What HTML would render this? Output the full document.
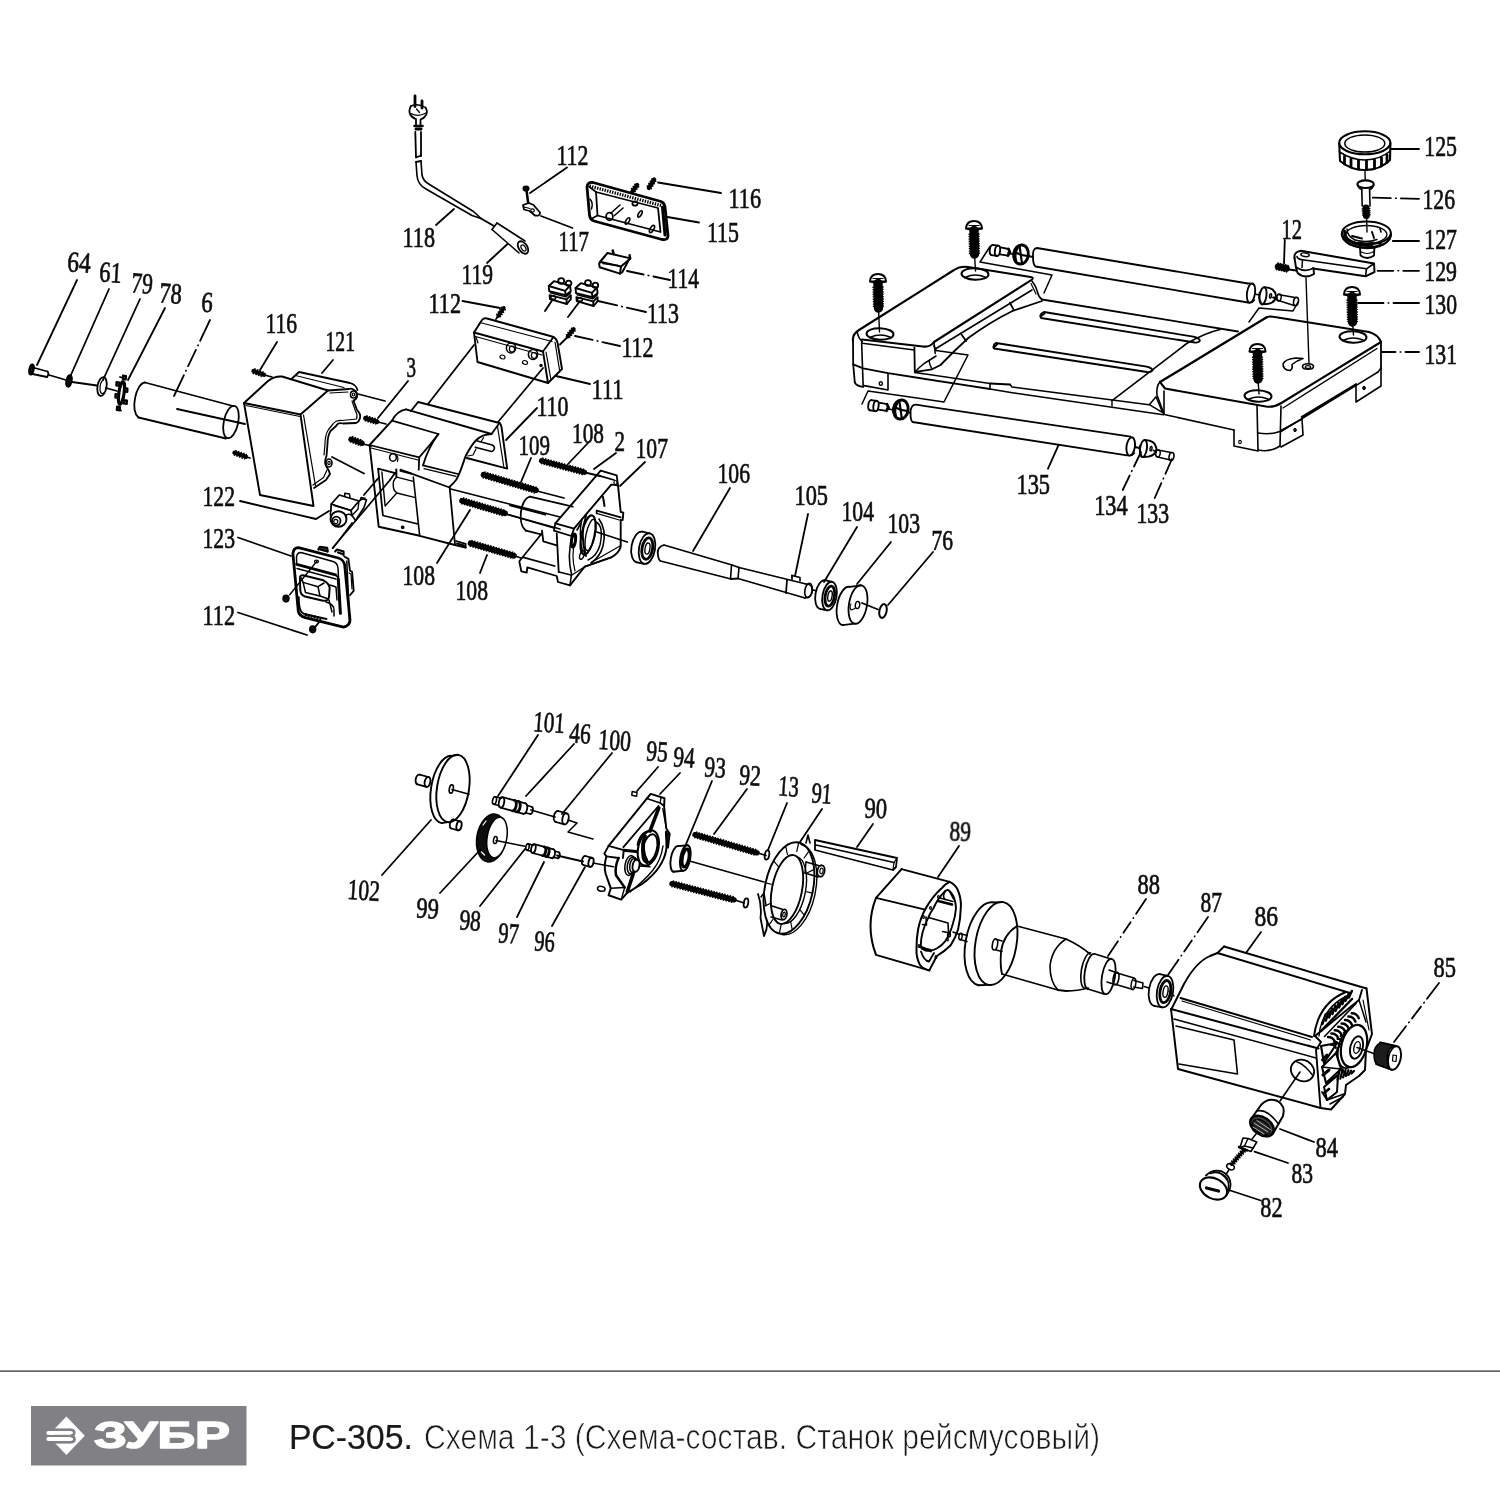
<!DOCTYPE html>
<html lang="ru"><head><meta charset="utf-8"><title>РС-305. Схема 1-3</title>
<style>
html,body{margin:0;padding:0;background:#fff}
body{width:1500px;height:1500px;overflow:hidden;position:relative;font-family:"Liberation Sans",sans-serif}
svg{position:absolute;left:0;top:0;display:block}
.n text{font-family:"Liberation Serif",serif;font-size:29px;fill:#111;stroke:#111;stroke-width:0.7px}
.ft{font-family:"Liberation Sans",sans-serif;font-size:35px;fill:#1a1a1a}
.lg{font-family:"Liberation Sans",sans-serif;font-weight:bold;font-size:36px;fill:#fff;stroke:#fff;stroke-width:1.5px;stroke-linejoin:round}
</style></head><body>
<svg width="1500" height="1500" viewBox="0 0 1500 1500">
<defs><filter id="na" x="0" y="0" width="1500" height="1500" filterUnits="userSpaceOnUse"><feOffset dx="0" dy="0"/></filter><filter id="sb" x="0" y="0" width="1500" height="1500" filterUnits="userSpaceOnUse"><feGaussianBlur stdDeviation="0.45"/></filter></defs>
<rect width="1500" height="1500" fill="#fff"/>
<g class="d" filter="url(#sb)" stroke="#000" stroke-width="1.8" fill="none" stroke-linecap="round" stroke-linejoin="round">
<ellipse cx="31.5" cy="369.5" rx="1.6" ry="4.6" transform="rotate(12 31.5 369.5)" stroke-width="3"/>
<path d="M33 367.5 L47.5 371.5"/>
<path d="M32.5 374 L47 377"/>
<path d="M47.5 371.5 Q49.5 374 47 377"/>
<path d="M49 375 L66 380"/>
<path d="M72 382 L97 385.5"/>
<path d="M106 388 L117 391"/>
<ellipse cx="69" cy="381" rx="2.6" ry="5.8" transform="rotate(12 69 381)" fill="#111"/>
<ellipse cx="102" cy="386.5" rx="4.5" ry="9.5" transform="rotate(10 102 386.5)"/>
<path d="M103 380 A3 7 10 0 0 103.5 393" stroke-width="1.2"/>
<ellipse cx="121.5" cy="393" rx="2.6" ry="11.5" transform="rotate(8 121.5 393)" stroke-width="3.2"/>
<path d="M122.9 375.5 L126.1 375.9 L125.9 379.5 L122.7 379.1Z" stroke-width="1.9" fill="#333"/>
<path d="M116.4 382 L119.6 382.4 L119.4 386 L116.2 385.6Z" stroke-width="1.9" fill="#333"/>
<path d="M124.4 388 L127.6 388.4 L127.4 392 L124.2 391.6Z" stroke-width="1.9" fill="#333"/>
<path d="M115.4 394 L118.6 394.4 L118.4 398 L115.2 397.6Z" stroke-width="1.9" fill="#333"/>
<path d="M123.9 400 L127.1 400.4 L126.9 404 L123.7 403.6Z" stroke-width="1.9" fill="#333"/>
<path d="M116.9 406.5 L120.1 406.9 L119.9 410.5 L116.7 410.1Z" stroke-width="1.9" fill="#333"/>
<path d="M120 377 L123.5 378"/>
<path d="M117 409 L121 410.5"/>
<path d="M145 382.5 L233 406"/>
<path d="M138.5 417.5 L226 438.5"/>
<path d="M145 382.5 C136 383 130 410 138.5 417.5"/>
<ellipse cx="231" cy="422" rx="7.2" ry="16.5" transform="rotate(12 231 422)"/>
<path d="M177 409 L245 424"/>
<path d="M244 403 L300.5 414.5 L313.5 506 L260 495Z" stroke-width="1.9"/>
<path d="M246 405.5 L300 416.5" stroke-width="1.2"/>
<path d="M244 403 L268 381 Q274 376 282 376.5 L328 390.5 L300.5 414.5" stroke-width="1.9"/>
<path d="M292 378.5 L299 372 L350 383 Q356 384.5 357.5 390" stroke-width="1.8"/>
<path d="M295.5 375.5 L344 387.5" stroke-width="1.2"/>
<path d="M328 390.5 L349 389 Q352 388 354 390 Q358 392 357 397 Q356 400 353.5 400.5 L357 410 Q361 414 360 418 Q359 422 356 423 L343 423.5 Q338 422 336 426 L330.5 431 Q327.5 436 327.5 444 L326.5 456 Q324 462 326 466 Q329 470 330 474 L326 480 L314 488" stroke-width="1.8"/>
<path d="M330 393 L348 392 M352 401 L355.5 411 Q358 415 356.5 419 L342 420.5 Q336 420 333 424 L328.5 429.5 Q325 435 325 444 L324 455 M327 470 L323.5 477.5 L313 485" stroke-width="1.2"/>
<ellipse cx="353.5" cy="394.5" rx="3" ry="3.5" stroke-width="1.6"/>
<ellipse cx="353.5" cy="394.5" rx="1.2" ry="1.5" stroke-width="1.2"/>
<ellipse cx="329" cy="463" rx="3" ry="4" stroke-width="1.6"/>
<ellipse cx="329" cy="463" rx="1.2" ry="1.6" stroke-width="1.2"/>
<path d="M303.5 415 L315.5 486" stroke-width="1.2"/>
<path d="M253.5 371 L264 374.8" stroke-width="4.4"/>
<path d="M253.5 371 L264 374.8" stroke-width="6.2" stroke-dasharray="1.5 1.3" stroke-linecap="butt"/>
<path d="M264.5 375 L272 377"/>
<path d="M234.5 452.7 L246 456.8" stroke-width="4.4"/>
<path d="M234.5 452.7 L246 456.8" stroke-width="6.2" stroke-dasharray="1.5 1.3" stroke-linecap="butt"/>
<path d="M246.5 457 L250 458"/>
<path d="M365.5 418.2 L377 421.8" stroke-width="4.8"/>
<path d="M365.5 418.2 L377 421.8" stroke-width="6.6" stroke-dasharray="1.5 1.3" stroke-linecap="butt"/>
<path d="M378 422 L386 424"/>
<path d="M351 439.2 L362 443.3" stroke-width="5.4"/>
<path d="M351 439.2 L362 443.3" stroke-width="7.2" stroke-dasharray="1.5 1.3" stroke-linecap="butt"/>
<path d="M358 394 L385 401"/>
<path d="M332 457 L364 473.5"/>
<path d="M363 444 L371 446"/>
<path d="M331.3 504 L339.3 495 L359 501 L351 510.5Z" stroke-width="1.8"/>
<path d="M331.3 504 L330.8 510.5"/>
<path d="M351 510.5 L352 515.5"/>
<path d="M334 505.5 L349.5 510" stroke-width="1.4"/>
<path d="M359 501 L362 499 L366.5 499.8 L364 507.5 L355.5 520.5" stroke-width="1.6"/>
<path d="M352 515.5 L358 509 L359 501" stroke-width="1.4"/>
<path d="M352 515.5 L355.5 520.5" stroke-width="1.5"/>
<path d="M344.7 496.5 L344.7 493.3 L349.5 494 L350 498" stroke-width="1.5"/>
<path d="M360.5 500 L361 497.5 L365 498.3" stroke-width="1.4"/>
<ellipse cx="338.5" cy="519" rx="8" ry="7.8" stroke-width="1.9"/>
<ellipse cx="336.3" cy="521" rx="4.2" ry="4.4" stroke-width="1.8"/>
<ellipse cx="335.8" cy="521.5" rx="2" ry="2.2" stroke-width="1.2"/>
<path d="M331 510.5 Q329.5 514 331 517 M346 515 Q349 513.5 352 515.5" stroke-width="1.5"/>
<path d="M292.9 553.6 Q293.3 548 298.5 547.7 L338.3 558 Q343.5 559.5 344.7 565 L350 620 Q350 625.5 343.6 627.2 L305.2 617.6 Q299 615.5 298.3 611.2 Z" stroke-width="2.8"/>
<path d="M296.7 564.3 L296.5 557 Q297 552.5 301 552.5 L333 561.5 Q337.5 563 338 568 L340.4 613.3" stroke-width="1.5"/>
<path d="M296.7 564.3 L335.6 574.9" stroke-width="2.8"/>
<path d="M297 568.5 L336 579" stroke-width="1.5"/>
<path d="M335.6 574.9 Q338.3 576.5 338.3 579.2" stroke-width="1.8"/>
<path d="M338.3 579.2 L340.4 613.3" stroke-width="3"/>
<path d="M344.7 556.8 L348.4 558.9 L350 570.7 L352.1 571.7 L353.7 590.9 L350 595.2" stroke-width="1.8"/>
<path d="M346.8 561.1 L349.5 619.7" stroke-width="1.5"/>
<path d="M349 573 L351 574 L352 589" stroke-width="1.2"/>
<path d="M299.9 578.5 Q299.5 574.5 304 575.5 L323.3 580.3 Q328.5 582.5 329.7 587.7 L329 597 Q328 602 322 600.5 L305 596.5 Q300.5 595 300.3 590 Z" stroke-width="2"/>
<path d="M303.1 582.4 L318 586.7 L320 596 L305.5 592.5Z" stroke-width="1.5"/>
<path d="M318 586.7 L324 583" stroke-width="1.5"/>
<path d="M320 596 L327 598.5" stroke-width="1.5"/>
<path d="M303.1 582.4 L301.5 578" stroke-width="1.4"/>
<path d="M298.8 597.3 Q298.5 606 300.9 611.2 Q302 613.5 306 614.5 L326.5 619" stroke-width="1.9"/>
<path d="M305 614.5 L322 619" stroke-width="3.2" stroke-dasharray="2 1" stroke-linecap="butt"/>
<path d="M329 600 L332 612 M326 602 Q334 604 334 610 L334 616" stroke-width="1.5"/>
<path d="M330 585 L336 587 L337 600" stroke-width="1.5"/>
<path d="M318.5 549.5 L320 547 L327 548 L327.6 551.5" stroke-width="2.5"/>
<path d="M321 549.5 L326.5 551" stroke-width="2.5"/>
<path d="M335.1 551.5 L337 549.5 L343.6 551.5 L343.6 555.5" stroke-width="2"/>
<path d="M338 552.5 L342.5 554" stroke-width="2.2"/>
<ellipse cx="316.5" cy="561.5" rx="2" ry="1.4" stroke-width="1.2"/>
<ellipse cx="286" cy="598.6" rx="2.8" ry="3.2" fill="#111"/>
<ellipse cx="312.7" cy="629.3" rx="2.8" ry="3.2" fill="#111"/>
<path d="M289.7 594.7 L316.9 561.1" stroke-width="1.5"/>
<path d="M315.9 626.1 L320.1 620.8"/>
<path d="M390 480 L332.6 548"/>
<path d="M376.7 480 L363.9 495"/>
<path d="M352.1 522.7 L332.9 548.3" stroke-width="1.4"/>
<path d="M395 473 L390 480"/>
<path d="M378.5 478 L376.7 480"/>
<path d="M369.6 445 L378.7 526.7 L419.7 535.8 L455 545 L465.6 547.5" stroke-width="1.9"/>
<path d="M369.6 445 L392 420.6 Q397 411 406 409.4" stroke-width="1.9"/>
<path d="M392 420.6 L438.4 434"/>
<path d="M438.4 434 Q430 445 419.2 457.4"/>
<path d="M438.4 434 Q428 448 423 465.4"/>
<path d="M369.6 445 L419.2 457.4 L418.7 469.7" stroke-width="1.8"/>
<path d="M371 448 L418 460" stroke-width="1.2"/>
<path d="M406 409.4 L491.5 434" stroke-width="1.9"/>
<path d="M411 411 L418.1 402 L499.5 423" stroke-width="1.9"/>
<path d="M491.5 434 L499.5 423"/>
<path d="M499.5 423 Q501 424 501.5 427 L507.2 468.6 L466.7 458" stroke-width="1.9"/>
<path d="M497.6 427 L504 468" stroke-width="1.2"/>
<path d="M491.5 434 C478 434 472 444 465.6 456 C462 466 460 474 456 480 Q453 484 449.6 486.7" stroke-width="1.9"/>
<path d="M423 465.4 L458 474"/>
<path d="M424 468.6 L456 476.3" stroke-width="1.2"/>
<path d="M400.5 469.7 L449.6 487.5"/>
<path d="M449.6 487 L455 544.5" stroke-width="1.8"/>
<path d="M450.7 489 L560 517"/>
<path d="M396.3 473.4 L378.1 468.6 L382.9 515.5 L418.1 524" stroke-width="1.8"/>
<path d="M413.3 477 L419.7 535.8" stroke-width="1.6"/>
<path d="M381.9 472 L385.1 506 L396.8 493 L414.4 497.4" stroke-width="1.4"/>
<path d="M396.3 469.5 L396.3 477" stroke-width="2"/>
<path d="M396.8 477.1 L413.3 481.4" stroke-width="1.4"/>
<path d="M396.8 477.1 Q392 480 393.5 488 Q394 491 396.8 493" stroke-width="1.4"/>
<path d="M400.5 470.7 L411 473.5" stroke-width="2"/>
<ellipse cx="393" cy="457.4" rx="3.4" ry="3.8" stroke-width="1.6"/>
<path d="M395 454 Q399 456 397.5 461.5" stroke-width="1.2"/>
<ellipse cx="402.7" cy="527.3" rx="1" ry="1" fill="#111"/>
<path d="M456 541 L465.6 543.8 L465.6 547.5"/>
<path d="M457 543.5 L464 545.5" stroke-width="1.9"/>
<path d="M477.3 441 L492.3 445 Q495.500 447 494 449.5 Q493 452 490.5 451.3 L475.2 447.3" stroke-width="1.5"/>
<path d="M483.7 437.7 L481 441.5" stroke-width="1.2"/>
<path d="M467.7 456 L473 455 L476 449" stroke-width="1.2"/>
<path d="M474 345 L428 404"/>
<path d="M543 368 L498 422"/>
<path d="M483.5 474.7 L536 490.3" stroke-width="5.6"/>
<path d="M483.5 474.7 L536 490.3" stroke-width="7.4" stroke-dasharray="1.5 1.3" stroke-linecap="butt"/>
<path d="M537 491 L564 498"/>
<path d="M541.5 460.7 L584.5 472.3" stroke-width="5.2"/>
<path d="M541.5 460.7 L584.5 472.3" stroke-width="7" stroke-dasharray="1.5 1.3" stroke-linecap="butt"/>
<path d="M585 472.5 L600 476"/>
<path d="M462 500.7 L505 513.3" stroke-width="5.6"/>
<path d="M462 500.7 L505 513.3" stroke-width="7.4" stroke-dasharray="1.5 1.3" stroke-linecap="butt"/>
<path d="M506 514 L560 529"/>
<path d="M470.5 543.2 L514 555.8" stroke-width="5.6"/>
<path d="M470.5 543.2 L514 555.8" stroke-width="7.4" stroke-dasharray="1.5 1.3" stroke-linecap="butt"/>
<path d="M515 556 L521 558"/>
<path d="M600.7 470.7 L616.7 475.3 L618 485.3" stroke-width="1.8"/>
<path d="M600.7 470.7 L555.3 523.3 L574 528.7 L611.3 484.7" stroke-width="1.9"/>
<path d="M598 475.3 L614 480"/>
<path d="M611.3 484.7 L618 485.3"/>
<ellipse cx="615.5" cy="482.5" rx="1.6" ry="2" stroke-width="1.2"/>
<path d="M618 485.3 L620.7 512 L623.3 512.7 L622.7 520 L620.7 520 L620.7 546.7 Q619 553 611.3 557.3 L584.7 566.7 L570 585.3" stroke-width="1.9"/>
<path d="M555.3 523.3 L554 530.7 L571.3 536 L574 528.7" stroke-width="1.8"/>
<path d="M556.7 533.3 L558.7 572" stroke-width="1.8"/>
<path d="M572 537 Q567 556 571.5 574 L570 585" stroke-width="1.6"/>
<path d="M575 540 Q571 556 575 571" stroke-width="1.2"/>
<path d="M530 496.7 C520 499 517 524 526 530.7" stroke-width="1.8"/>
<path d="M530 496.7 L572.7 506.7" stroke-width="1.8"/>
<path d="M526 530.7 L542 534.7" stroke-width="1.8"/>
<path d="M510 505.3 L545.3 514.7"/>
<path d="M506 514 L554 528"/>
<path d="M542 530.7 L543.3 541.3 L556.7 545.3"/>
<path d="M542 533.3 L519.3 561.3 L521.3 571.3 L526.7 572.7 L527.3 567.3 L556.7 576 L558 582 L570 585.3" stroke-width="1.8"/>
<path d="M523.3 557.3 L554.7 566"/>
<path d="M559 572 L571 575"/>
<path d="M572 575 L584.7 566.7" stroke-width="1.2"/>
<ellipse cx="588" cy="535" rx="6.5" ry="20" transform="rotate(12 588 535)" stroke-width="2.1"/>
<ellipse cx="590.5" cy="535" rx="4.5" ry="16" transform="rotate(12 590.5 535)" stroke-width="1.4"/>
<path d="M582 519 Q578 535 583 553" stroke-width="1.4"/>
<path d="M596 522 Q604 526 600 545 Q597 556 588 560" stroke-width="1.5"/>
<ellipse cx="573.5" cy="540.5" rx="2" ry="6.5" transform="rotate(8 573.5 540.5)" stroke-width="3"/>
<path d="M586 516 Q579.5 535 586 556" stroke-width="1.9"/>
<path d="M599 519 Q607 530 603 546 Q600 557 591 563" stroke-width="1.6"/>
<path d="M584.7 566.7 L611.3 557.3" stroke-width="1.5"/>
<path d="M577 530 L581 523" stroke-width="1.6"/>
<ellipse cx="582" cy="555" rx="2" ry="4.5" transform="rotate(20 582 555)" stroke-width="1.4"/>
<path d="M596.7 510.7 L620.7 517.3" stroke-width="1.8"/>
<path d="M596.7 513.4 L619.3 520" stroke-width="1.2"/>
<path d="M596.7 510.7 L596.7 513.4"/>
<path d="M603 497 L604.5 506" stroke-width="2"/>
<path d="M596.7 532 L627.3 542"/>
<path d="M592 562 L620 546" stroke-width="1.2"/>
<path d="M642.2 531.7 A8 15.5 10 0 0 636.8 562.3" stroke-width="1.8"/>
<path d="M642.2 531.7 L649.7 533.3" stroke-width="1.8"/>
<path d="M636.8 562.3 L644.3 563.9" stroke-width="1.8"/>
<ellipse cx="647" cy="548.6" rx="8" ry="15.5" transform="rotate(10 647 548.6)" stroke-width="1.8"/>
<ellipse cx="647.3" cy="548.6" rx="5.3" ry="10.8" transform="rotate(10 647.3 548.6)" stroke-width="2.8"/>
<ellipse cx="647.5" cy="548.6" rx="2.4" ry="5.6" transform="rotate(10 647.5 548.6)" stroke-width="1.4"/>
<path d="M664 545 L732 565 M660.500 561 L731 579 M664 545 Q656.500 547 658 555 Q658.500 560 660.5 561" stroke-width="1.8"/>
<path d="M731.5 565.5 L730.5 579" stroke-width="1.6"/>
<path d="M739 567.5 L738 578.5" stroke-width="1.6"/>
<path d="M732 565 L739 567.5"/>
<path d="M731 579 L738 578.5"/>
<path d="M739 567.5 L806 584" stroke-width="1.8"/>
<path d="M738 578.5 L805 598" stroke-width="1.8"/>
<path d="M787 580 L786 593"/>
<ellipse cx="808.5" cy="590.5" rx="3.6" ry="7.2" transform="rotate(10 808.5 590.5)" stroke-width="1.6"/>
<path d="M806 584 Q812 584 812.500 590 Q812.500 597 805 598" stroke-width="1.5"/>
<path d="M792 575.5 L800 577.5 L800 581" stroke-width="1.6"/>
<path d="M792 575.5 L792 579"/>
<path d="M825 580.2 A7 14.5 10 0 0 820 608.8" stroke-width="1.8"/>
<path d="M825 580.2 L832 581.8" stroke-width="1.8"/>
<path d="M820 608.8 L827 610.4" stroke-width="1.8"/>
<ellipse cx="829.5" cy="596.1" rx="7" ry="14.5" transform="rotate(10 829.5 596.1)" stroke-width="1.8"/>
<ellipse cx="829.8" cy="596.1" rx="4.6" ry="10.1" transform="rotate(10 829.8 596.1)" stroke-width="2.8"/>
<ellipse cx="830" cy="596.1" rx="2.1" ry="5.2" transform="rotate(10 830 596.1)" stroke-width="1.4"/>
<path d="M849.4 586.8 A9 19.5 10 0 0 842.6 625.2" stroke-width="1.8"/>
<path d="M849.4 586.8 L861.4 585.3" stroke-width="1.8"/>
<path d="M842.6 625.2 L854.6 623.7" stroke-width="1.8"/>
<ellipse cx="858" cy="604.5" rx="9" ry="19.5" transform="rotate(10 858 604.5)" stroke-width="1.8"/>
<ellipse cx="857.5" cy="605" rx="2.2" ry="3.6" transform="rotate(10 857.5 605)" stroke-width="1.4"/>
<path d="M855 608.5 L851 610 Q849 606.5 851 604" stroke-width="1.2"/>
<path d="M862 603 L878 609.5"/>
<ellipse cx="883" cy="611" rx="3.6" ry="7" transform="rotate(12 883 611)" stroke-width="2"/>
<path d="M812 589.5 L815 590.5"/>
<path d="M474 332.500 L482 320 Q484 317.500 487 318.500 L552 336.5 Q556.5 338 557.5 342.5 L562 369 L548 383" stroke-width="1.9"/>
<path d="M474 332.5 L543 351.5 L548 383 L477.5 362Z" stroke-width="1.9"/>
<path d="M543 351.5 L553.5 337" stroke-width="1.8"/>
<path d="M478.5 325.5 L480 322.5 L552 341.5" stroke-width="1.2"/>
<path d="M475.5 336.5 L542 355" stroke-width="1.2"/>
<path d="M476 337 L478 343" stroke-width="1.2"/>
<path d="M546 352 L551 380" stroke-width="1.2"/>
<path d="M555 342 L559.5 370" stroke-width="1.2"/>
<ellipse cx="511" cy="348" rx="4.6" ry="5" stroke-width="1.6"/>
<ellipse cx="512" cy="349" rx="2.6" ry="3" stroke-width="1.2"/>
<ellipse cx="533" cy="354.5" rx="4.6" ry="5" stroke-width="1.6"/>
<ellipse cx="534" cy="355.5" rx="2.6" ry="3" stroke-width="1.2"/>
<ellipse cx="502.5" cy="357" rx="2.6" ry="1.8" transform="rotate(20 502.5 357)" stroke-width="1.2"/>
<ellipse cx="525" cy="362.5" rx="2.6" ry="1.8" transform="rotate(20 525 362.5)" stroke-width="1.2"/>
<ellipse cx="541" cy="365.5" rx="0.8" ry="0.8" fill="#111"/>
<path d="M503.7 308 L498.3 316" stroke-width="4"/>
<path d="M503.7 308 L498.3 316" stroke-width="5.8" stroke-dasharray="1.5 1.3" stroke-linecap="butt"/>
<path d="M498 316.5 L496 319"/>
<path d="M573.7 329 L567.8 336.5" stroke-width="4"/>
<path d="M573.7 329 L567.8 336.5" stroke-width="5.8" stroke-dasharray="1.5 1.3" stroke-linecap="butt"/>
<path d="M567.5 337 L560 344.5"/>
<path d="M548.8 286 L554 281.2 L570 285.6 L565.2 290.8Z" stroke-width="1.9"/>
<path d="M548.8 286 L549.2 291.2 L565.6 295.2 L565.2 290.8" stroke-width="1.9"/>
<path d="M570 285.6 L570.8 291.2 L565.6 295.2" stroke-width="1.9"/>
<ellipse cx="561.2" cy="281" rx="3" ry="2.8" stroke-width="1.8"/>
<ellipse cx="568.6" cy="283.2" rx="2.8" ry="2.6" stroke-width="1.8"/>
<path d="M550.4 292.8 L565.8 296.8 L570.4 292.8" stroke-width="1.6"/>
<path d="M549.6 295.2 L566.4 299.4 L566.8 304 L550 299.2Z" stroke-width="1.9"/>
<path d="M566.4 299.6 L570.8 295.2 L570.8 299.2 L566.8 304" stroke-width="1.9"/>
<ellipse cx="553.2" cy="297.8" rx="2.4" ry="2" stroke-width="1.5"/>
<path d="M575.6 288 L580.8 283.2 L596.8 287.6 L592 292.8Z" stroke-width="1.9"/>
<path d="M575.6 288 L576 293.2 L592.4 297.2 L592 292.8" stroke-width="1.9"/>
<path d="M596.8 287.6 L597.6 293.2 L592.4 297.2" stroke-width="1.9"/>
<ellipse cx="588" cy="283" rx="3" ry="2.8" stroke-width="1.8"/>
<ellipse cx="595.4" cy="285.2" rx="2.8" ry="2.6" stroke-width="1.8"/>
<path d="M577.2 294.8 L592.6 298.8 L597.2 294.8" stroke-width="1.6"/>
<path d="M576.4 297.2 L593.2 301.4 L593.6 306 L576.8 301.2Z" stroke-width="1.9"/>
<path d="M593.2 301.6 L597.6 297.2 L597.6 301.2 L593.6 306" stroke-width="1.9"/>
<ellipse cx="580" cy="299.8" rx="2.4" ry="2" stroke-width="1.5"/>
<path d="M553 299 L545 311" stroke-width="1.9"/>
<path d="M580 301 L568 317" stroke-width="1.9"/>
<path d="M599.500 262.500 L607.5 253 L630.400 258.400 L621 266.500 L601 262 Q599.2 262 599.200 264 L599.600 267.200 L620 273.600 L621 266.500" stroke-width="2"/>
<path d="M628.8 260 L622.4 272 L620 273.6" stroke-width="1.9"/>
<path d="M612.8 250.4 L613.5 254" stroke-width="2.5"/>
<path d="M629.6 255.2 L630 258.5" stroke-width="2.5"/>
<path d="M603 263.5 L618 265.5" stroke-width="1.4"/>
<path d="M587 187 Q587.5 182 593 182.5 L661 201.5 Q664.5 203 665 207 L668 236 Q667.5 240.500 662 239.500 L594 221 Q590 219.500 589.500 215 Z" stroke-width="2.8"/>
<path d="M596 192 L658 208 L660.5 232 L597.5 215.5Z" stroke-width="1.8"/>
<path d="M589.5 186 L661 205.5" stroke-width="3.2" stroke-dasharray="1.4 1.2" stroke-linecap="butt"/>
<path d="M662.5 207 L665 235" stroke-width="3"/>
<path d="M596 192 L589 186.5"/>
<path d="M597.5 215.5 L591 219"/>
<ellipse cx="609.5" cy="216.5" rx="3.4" ry="3.8" stroke-width="1.8"/>
<path d="M611 213 L620 205" stroke-width="1.5"/>
<path d="M614.5 215.5 L623 208" stroke-width="1.5"/>
<ellipse cx="627.5" cy="221" rx="1.6" ry="3.6" transform="rotate(30 627.5 221)" stroke-width="1.6"/>
<ellipse cx="640" cy="214" rx="1.5" ry="3.6" transform="rotate(30 640 214)" stroke-width="1.6"/>
<ellipse cx="652" cy="229" rx="1.8" ry="4" transform="rotate(30 652 229)" stroke-width="1.6"/>
<ellipse cx="635" cy="203.5" rx="2.6" ry="2.2" stroke-width="1.8"/>
<path d="M590 199 Q593.500 203 591.500 209" stroke-width="1.5"/>
<path d="M654.2 179.5 L648.8 188" stroke-width="4.2"/>
<path d="M654.2 179.5 L648.8 188" stroke-width="6" stroke-dasharray="1.5 1.3" stroke-linecap="butt"/>
<path d="M637.2 185 L632.3 191.5" stroke-width="4.2"/>
<path d="M637.2 185 L632.3 191.5" stroke-width="6" stroke-dasharray="1.5 1.3" stroke-linecap="butt"/>
<ellipse cx="526" cy="188.5" rx="2.6" ry="2.2" fill="#111"/>
<path d="M526.5 190 L528 202" stroke-width="2.5"/>
<path d="M523 205 L529 203 L533.500 205 L540 212.500 Q540 216.500 535 215.500 L529.500 211 L524 209.5 Z" stroke-width="1.8"/>
<ellipse cx="532.5" cy="210.5" rx="1.8" ry="1.6" stroke-width="1.2"/>
<path d="M524 207 L530 208.5" stroke-width="1.2"/>
<path d="M415 96 L415 106.5" stroke-width="2.8"/>
<path d="M422 101 L422 108" stroke-width="2.8"/>
<path d="M411 106 Q408.5 110 410 114 Q412 118 416 119 L416 126 M425.500 107.500 Q428 111 426 115 Q424 118.500 420.500 119.5 L420.5 126" stroke-width="1.8"/>
<path d="M411 106 Q418 103 425.500 107.500 M411 113.500 Q418 117.500 426 113" stroke-width="1.4"/>
<path d="M416.5 109 L419.5 112.5" stroke-width="1.2"/>
<path d="M414.5 126 L422.5 126" stroke-width="2.5"/>
<path d="M416 129 L421 129" stroke-width="3"/>
<path d="M415.3 132 L416 157"/>
<path d="M421 132 L421 156"/>
<path d="M416 157.5 L421 155.5"/>
<path d="M416 162 L417 176 Q418 185 426 189 L472 215.500 L481 218.5" stroke-width="1.6"/>
<path d="M421 161 L422 175 Q423 181 429.5 184.500 L473.500 211.500 L481 218.5" stroke-width="1.6"/>
<path d="M416 162 L421 161"/>
<path d="M481 218.5 L494 226" stroke-width="2"/>
<path d="M497 223 L525 241" stroke-width="1.6"/>
<path d="M492 229.5 L519 253" stroke-width="1.6"/>
<path d="M497 223 L492 229.5" stroke-width="1.6"/>
<ellipse cx="523" cy="247.5" rx="4.2" ry="7" transform="rotate(-35 523 247.5)" stroke-width="1.8"/>
<ellipse cx="523.5" cy="248" rx="2" ry="3.4" transform="rotate(-35 523.5 248)" stroke-width="1.2"/>
<path d="M862 339.500 L923 346.500 Q930 347.500 934 342 L1030 280.800 Q1036 277.500 1029 276.800 L968 267 Q960 266 954 270 L859 330 Q852 334.5 853 341" stroke-width="2.1"/>
<path d="M853 341 L853.2 364.4 L854.8 382.4" stroke-width="1.8"/>
<path d="M854.8 382.4 Q856 386 863.2 386.8" stroke-width="1.8"/>
<path d="M857.2 331.6 Q858 338 862.4 341.6" stroke-width="1.5"/>
<path d="M861.6 341.6 L863.2 386.8" stroke-width="1.6"/>
<path d="M853.2 364.4 L863.2 368.4 L888 373.2 L990 389" stroke-width="1.8"/>
<path d="M862.4 343.2 L914.4 350" stroke-width="1.4"/>
<path d="M914.4 347.5 L914.8 372.4" stroke-width="1.8"/>
<path d="M888 373.6 L888 390 L864 385.6" stroke-width="1.6"/>
<ellipse cx="880.8" cy="383.6" rx="1.6" ry="1.8" stroke-width="1.4"/>
<path d="M935.2 349 L1032 290" stroke-width="1.6"/>
<path d="M915 372 L932 369.3 L940.5 365 Q955 350 968.3 338 Q990 322 1012 311.2 L1042 301" stroke-width="1.8"/>
<path d="M934 346 L936 350.5"/>
<path d="M960.8 333.6 L966.1 341"/>
<path d="M1009.9 302.7 L1013.6 309.6"/>
<path d="M915 372 Q922 364 929 360.5 L936 356" stroke-width="1.5"/>
<path d="M929 360.5 Q929.5 365 932 369" stroke-width="1.5"/>
<path d="M934 342 L935.2 353.5" stroke-width="1.5"/>
<path d="M1032 281 Q1036 286 1037.5 292 Q1038.5 297 1042 299.5" stroke-width="1.6"/>
<path d="M1031 283.5 L1036 294" stroke-width="1.2"/>
<path d="M1042 299.5 L1238 331.5" stroke-width="1.8"/>
<path d="M1044 312 L1193.300 336.7 Q1199 338 1200 340.7 Q1199 343 1195 342.500 L1041 318 Q1039 314 1044 312" stroke-width="1.8"/>
<path d="M996 343 L1146.700 366.700 Q1152 368 1152.700 370.500 Q1151 372.500 1147 372 L994 348.5 Q992.500 345 996 343" stroke-width="1.8"/>
<path d="M997 344.5 L993.5 347.5" stroke-width="2"/>
<path d="M1044.5 313.5 L1040.5 316.5" stroke-width="2"/>
<path d="M915 372.5 L990 383.5 L990 389" stroke-width="1.6"/>
<path d="M990 383.5 L1010 384.5" stroke-width="2.2"/>
<path d="M1010 384.5 L1012 387 L1149 404.7" stroke-width="1.6"/>
<path d="M1010.7 392.5 L1163.5 414.7" stroke-width="1.6"/>
<path d="M990 389 L1010.7 392.5" stroke-width="1.4"/>
<path d="M1220 329.5 Q1205 333 1186.700 343.500 L1112 400.700" stroke-width="1.6"/>
<path d="M1112 400.7 L1112 406" stroke-width="1.4"/>
<path d="M1266.7 317.3 L1160 382" stroke-width="2.4"/>
<path d="M1160 382 Q1156 386 1157 395 L1164 414" stroke-width="1.6"/>
<path d="M1164 391 L1164 414.5" stroke-width="1.6"/>
<path d="M1149.3 404.7 L1156 396.7 L1162.7 412.7Z" stroke-width="1.5"/>
<path d="M1266.700 317.300 Q1269 316 1273 316.800 L1369 332 Q1378 334.500 1381 342 L1280.500 403.500 Q1274 407.500 1266 406.500 L1165 388.500 L1160 382" stroke-width="2.1"/>
<path d="M1377 348.500 L1283 408" stroke-width="1.4"/>
<path d="M1381 342 L1381 368" stroke-width="1.8"/>
<path d="M1378 372 L1281 431.5" stroke-width="1.5"/>
<path d="M1381 368 L1381 386 L1356 402 L1356 384" stroke-width="1.6"/>
<path d="M1381 368 L1378 372" stroke-width="1.4"/>
<ellipse cx="1364" cy="388" rx="1.3" ry="1.8" stroke-width="1" fill="#111"/>
<path d="M1302 417 L1356 384.5" stroke-width="2.4"/>
<path d="M1257 405 L1258 450" stroke-width="1.6"/>
<path d="M1281 406 L1280 446" stroke-width="1.6"/>
<path d="M1258 450 Q1270 452.500 1280 446" stroke-width="1.6"/>
<path d="M1258 433 Q1270 435 1280 431.500" stroke-width="1.5"/>
<path d="M1165.3 414.7 L1234 430" stroke-width="1.6"/>
<path d="M1234 430 L1234 446 L1258 451" stroke-width="1.6"/>
<ellipse cx="1240" cy="442" rx="1.3" ry="1.6" stroke-width="1.1"/>
<path d="M1281 430.5 L1302 419 L1303 435 L1281 447" stroke-width="1.6"/>
<ellipse cx="1295" cy="430" rx="1.2" ry="1.8" stroke-width="1" fill="#111"/>
<path d="M1283 364 Q1285 359 1296 358 L1303 358.500 Q1297 360.500 1292 364.500 Q1293 369 1290 370.500 Q1283 370 1283 364" stroke-width="1.6"/>
<ellipse cx="1308" cy="366.5" rx="5.5" ry="2.8" stroke-width="1.6"/>
<ellipse cx="1308" cy="367" rx="2.8" ry="1.4" stroke-width="1.2"/>
<path d="M1306 278 L1309 364" stroke-width="1.4"/>
<ellipse cx="975" cy="274" rx="13.5" ry="5.8" transform="rotate(2 975 274)" stroke-width="2"/>
<path d="M966 277 Q975 273 985 277" stroke-width="1.4"/>
<ellipse cx="880" cy="334" rx="13.5" ry="5.8" transform="rotate(2 880 334)" stroke-width="2"/>
<path d="M871 337 Q880 333 890 337" stroke-width="1.4"/>
<ellipse cx="1258" cy="396" rx="13.5" ry="5.8" transform="rotate(2 1258 396)" stroke-width="2"/>
<path d="M1249 399 Q1258 395 1268 399" stroke-width="1.4"/>
<ellipse cx="1353" cy="337" rx="13.5" ry="5.8" transform="rotate(2 1353 337)" stroke-width="2"/>
<path d="M1344 340 Q1353 336 1363 340" stroke-width="1.4"/>
<path d="M966 228.5 Q966.5 221 974 221 Q981.5 221 982 228.5 Z" stroke-width="1.9"/>
<path d="M966 228.5 Q974 231.5 982 228.5" stroke-width="1.6"/>
<path d="M969 225.5 L979 225.5" stroke-width="1.2"/>
<path d="M974 230.5 L974.5 254" stroke-width="9.4"/>
<path d="M974 233.5 L974.5 254" stroke-width="11.2" stroke-dasharray="1.3 1.1" stroke-linecap="butt"/>
<path d="M974.5 254 L975.5 271" stroke-width="1.4"/>
<path d="M870 281.5 Q870.5 274 878 274 Q885.5 274 886 281.5 Z" stroke-width="1.9"/>
<path d="M870 281.5 Q878 284.5 886 281.5" stroke-width="1.6"/>
<path d="M873 278.5 L883 278.5" stroke-width="1.2"/>
<path d="M878 283.5 L878.5 308" stroke-width="9.4"/>
<path d="M878 286.5 L878.5 308" stroke-width="11.2" stroke-dasharray="1.3 1.1" stroke-linecap="butt"/>
<path d="M878.5 308 L879.5 332" stroke-width="1.4"/>
<path d="M1249.5 351.5 Q1250 344 1257.5 344 Q1265 344 1265.5 351.5 Z" stroke-width="1.9"/>
<path d="M1249.5 351.5 Q1257.5 354.5 1265.5 351.5" stroke-width="1.6"/>
<path d="M1252.5 348.5 L1262.5 348.5" stroke-width="1.2"/>
<path d="M1257.5 353.5 L1258 379" stroke-width="9.4"/>
<path d="M1257.5 356.5 L1258 379" stroke-width="11.2" stroke-dasharray="1.3 1.1" stroke-linecap="butt"/>
<path d="M1258 379 L1259 394" stroke-width="1.4"/>
<path d="M1344 294.5 Q1344.5 287 1352 287 Q1359.5 287 1360 294.5 Z" stroke-width="1.9"/>
<path d="M1344 294.5 Q1352 297.5 1360 294.5" stroke-width="1.6"/>
<path d="M1347 291.5 L1357 291.5" stroke-width="1.2"/>
<path d="M1352 296.5 L1352.5 322" stroke-width="9.4"/>
<path d="M1352 299.5 L1352.5 322" stroke-width="11.2" stroke-dasharray="1.3 1.1" stroke-linecap="butt"/>
<path d="M1352.5 322 L1353.5 335" stroke-width="1.4"/>
<path d="M1037 248 L1248 283.500 M1035.500 266.5 L1248 302.500 M1037 248 Q1032.500 248 1033 257 Q1033 264.500 1035.5 266.500" stroke-width="1.8"/>
<ellipse cx="1251" cy="293" rx="4" ry="9.8" transform="rotate(8 1251 293)" stroke-width="1.8"/>
<path d="M1248 283.5 Q1252 282.500 1254 285 M1248 302.5 Q1252 303.500 1254.500 300" stroke-width="1.4"/>
<path d="M992.7 244.9 A2.6 5.2 8 0 0 991.3 255.1" stroke-width="1.9"/>
<path d="M992.7 244.9 L998.2 245.7" stroke-width="1.9"/>
<path d="M991.3 255.1 L996.8 255.9" stroke-width="1.9"/>
<ellipse cx="997.5" cy="250.8" rx="2.6" ry="5.2" transform="rotate(8 997.5 250.8)" stroke-width="1.9"/>
<path d="M1000.5 247.4 L1008.5 249" stroke-width="1.8"/>
<path d="M1000 254.4 L1008 255.6" stroke-width="1.8"/>
<path d="M1008.5 249 L1010 252.4 L1008 255.6" stroke-width="2.8"/>
<ellipse cx="1021" cy="254.5" rx="7.4" ry="9.6" transform="rotate(8 1021 254.5)" stroke-width="2.9"/>
<path d="M1019.5 245.7 L1022 263.3" stroke-width="2.2"/>
<path d="M1014.2 252 Q1021 255.5 1027.8 256" stroke-width="2.2"/>
<path d="M1016.2 260.9 Q1013.8 254.5 1018.6 246.5" stroke-width="2"/>
<path d="M1008 253 L1014 254.5"/>
<path d="M1028 256 L1033 257"/>
<path d="M990 246.5 L980 262 L1052 275 L1044 293" stroke-width="1.5"/>
<ellipse cx="1263" cy="295.8" rx="3.4" ry="8.6" transform="rotate(8 1263 295.8)" stroke-width="1.9"/>
<path d="M1264.2 287.3 Q1275 287.5 1276 296 Q1275.5 304.5 1261.8 304.3" stroke-width="2"/>
<path d="M1259.6 292.5 Q1258 297.5 1261 302.5" stroke-width="1.6"/>
<ellipse cx="1270.5" cy="296" rx="1" ry="2.2" transform="rotate(8 1270.5 296)" stroke-width="1.5"/>
<ellipse cx="1296" cy="301.5" rx="2.4" ry="4.2" transform="rotate(10 1296 301.5)" stroke-width="1.6"/>
<path d="M1278 294.5 L1295 297.5" stroke-width="1.5"/>
<path d="M1277 300 L1294 305.5" stroke-width="1.5"/>
<ellipse cx="1279" cy="297.5" rx="2.2" ry="3.6" transform="rotate(10 1279 297.5)" stroke-width="1.4"/>
<path d="M1255 294 L1259 295"/>
<path d="M1273 297.5 L1277 298"/>
<path d="M1298 302 L1293 311 L1259 308 L1249 322" stroke-width="1.5"/>
<path d="M916 404.700 L1130.700 436.700 M912.500 422 L1127 455.300 M916 404.700 Q910.5 404.500 910.500 413 Q910.500 420.500 912.5 422" stroke-width="1.8"/>
<ellipse cx="1130.7" cy="446.5" rx="4.2" ry="9.2" transform="rotate(8 1130.7 446.5)" stroke-width="1.9"/>
<path d="M1127 455.3 Q1132 456.500 1134.500 453" stroke-width="1.4"/>
<path d="M871.2 400.1 A2.6 5.2 8 0 0 869.8 410.3" stroke-width="1.9"/>
<path d="M871.2 400.1 L876.7 400.9" stroke-width="1.9"/>
<path d="M869.8 410.3 L875.3 411.1" stroke-width="1.9"/>
<ellipse cx="876" cy="406" rx="2.6" ry="5.2" transform="rotate(8 876 406)" stroke-width="1.9"/>
<path d="M879 402.6 L887 404.2" stroke-width="1.8"/>
<path d="M878.5 409.6 L886.5 410.8" stroke-width="1.8"/>
<path d="M887 404.2 L888.5 407.6 L886.5 410.8" stroke-width="2.8"/>
<ellipse cx="900.8" cy="409.5" rx="7.4" ry="9.6" transform="rotate(8 900.8 409.5)" stroke-width="2.9"/>
<path d="M899.3 400.7 L901.8 418.3" stroke-width="2.2"/>
<path d="M894 407 Q900.8 410.5 907.6 411" stroke-width="2.2"/>
<path d="M896 415.9 Q893.6 409.5 898.4 401.5" stroke-width="2"/>
<path d="M887 408.5 L893 410"/>
<path d="M907 412 L910.5 413"/>
<path d="M936 350.5 L968 355 L944 402 L868 391 L862 404" stroke-width="1.5"/>
<ellipse cx="1143.5" cy="448.5" rx="3.4" ry="8.6" transform="rotate(8 1143.5 448.5)" stroke-width="1.9"/>
<path d="M1144.7 440 Q1155.5 440.2 1156.5 448.7 Q1156 457.2 1142.3 457" stroke-width="2"/>
<path d="M1140.1 445.2 Q1138.5 450.2 1141.5 455.2" stroke-width="1.6"/>
<ellipse cx="1151" cy="448.7" rx="1" ry="2.2" transform="rotate(8 1151 448.7)" stroke-width="1.5"/>
<ellipse cx="1158" cy="453.5" rx="2.2" ry="3.6" transform="rotate(10 1158 453.5)" stroke-width="1.4"/>
<path d="M1158 450 L1171 452.5" stroke-width="1.5"/>
<path d="M1157.5 457 L1170.5 460" stroke-width="1.5"/>
<ellipse cx="1171.5" cy="456.5" rx="2.4" ry="4" transform="rotate(10 1171.5 456.5)" stroke-width="1.6"/>
<path d="M1135 447 L1139.5 448"/>
<path d="M1153.5 450.5 L1156 451.5"/>
<path d="M1294.500 258 Q1293.500 252 1301 250.800 L1374 263.500 L1374.500 272 L1365.500 276.300 L1313 268.400" stroke-width="2"/>
<path d="M1294.5 258 L1296 267.5" stroke-width="1.9"/>
<path d="M1297 256.500 Q1297.500 259.200 1302.500 259.700 L1366.500 268.800 L1374 263.500" stroke-width="1.6"/>
<path d="M1366.5 268.8 L1365.5 276.3" stroke-width="1.6"/>
<path d="M1302.5 259.7 L1302 267.5" stroke-width="1.5"/>
<path d="M1296 267.500 L1297.600 273 Q1305 279.5 1314 274 L1313.500 268.5" stroke-width="1.9"/>
<path d="M1296.500 267.500 Q1305 273 1313.500 268" stroke-width="1.5"/>
<ellipse cx="1305" cy="254.8" rx="4.2" ry="1.8" transform="rotate(8 1305 254.8)" stroke-width="1.5"/>
<path d="M1278 266.5 L1286.5 268.5" stroke-width="6.5"/>
<path d="M1276.5 266.2 L1288 268.8" stroke-width="8" stroke-dasharray="1.6 1" stroke-linecap="butt"/>
<path d="M1289 269.5 L1296 270.5"/>
<ellipse cx="1364.8" cy="142.8" rx="25.6" ry="11.5" stroke-width="2.1"/>
<ellipse cx="1364.8" cy="143.5" rx="20" ry="8.6" stroke-width="1.5"/>
<path d="M1339.200 143.500 L1340 161 Q1352 170.500 1365 170 Q1380 170 1390 160 L1390.400 143.5" stroke-width="2.1"/>
<path d="M1339.500 152 Q1352 160 1365 160 Q1380 159.500 1390.300 151" stroke-width="1.5"/>
<path d="M1344.5 156.5 L1344.5 164" stroke-width="2.8"/>
<path d="M1351 159 L1351 167" stroke-width="2.8"/>
<path d="M1358.5 160.5 L1358.5 169" stroke-width="2.8"/>
<path d="M1366.5 161 L1366.5 169.5" stroke-width="2.8"/>
<path d="M1374.5 160 L1374.5 168.5" stroke-width="2.8"/>
<path d="M1381.5 158 L1381.5 166" stroke-width="2.8"/>
<path d="M1387 155 L1387 162.5" stroke-width="2.8"/>
<path d="M1365 170 L1365.2 180" stroke-width="1.4"/>
<ellipse cx="1365.6" cy="184.2" rx="8.2" ry="3.8" stroke-width="2.1"/>
<path d="M1357.5 185 Q1359 189 1361.800 189.500 M1373.600 185 Q1372.500 189 1369.600 189.500" stroke-width="1.6"/>
<path d="M1361.8 189 L1362.2 206" stroke-width="1.6"/>
<path d="M1369.6 189 L1370 206" stroke-width="1.6"/>
<path d="M1366 208 L1366.4 215.5" stroke-width="7"/>
<path d="M1366 208 L1366.4 215.5" stroke-width="8.8" stroke-dasharray="1.2 1" stroke-linecap="butt"/>
<path d="M1366.5 215 L1367 232" stroke-width="1.4"/>
<ellipse cx="1366.4" cy="233" rx="24.5" ry="11.5" stroke-width="2.1"/>
<ellipse cx="1366.4" cy="234.5" rx="20.5" ry="9" stroke-width="1.4"/>
<path d="M1341.800 234 Q1342 240 1350 244.500 Q1366 250.500 1383 244.500 Q1391 240.500 1391 234" stroke-width="2.2"/>
<path d="M1343 238.500 Q1352 248.500 1367 248.500 Q1382 248.500 1390 239" stroke-width="1.5"/>
<path d="M1350 244.5 Q1366 239 1383 244.5" stroke-width="1.4"/>
<path d="M1344.5 231 Q1344 238 1352 242.5 Q1362 246.5 1372 245.5" stroke-width="2.8"/>
<path d="M1347 229 Q1347 236 1355 240" stroke-width="1.5"/>
<path d="M1360 247.600 L1360.500 255.500 Q1367 260.500 1374 255.500 L1374.400 247.600" stroke-width="1.8"/>
<path d="M1360.500 251.5 Q1367 255.500 1374 251.500" stroke-width="1.2"/>
<path d="M1352 236 L1362 238.5" stroke-width="1.9"/>
<path d="M1372 232 L1374 238" stroke-width="1.9"/>
<path d="M1380 228.5 L1381 232" stroke-width="1.6"/>
<path d="M1355 240 Q1366 243 1377 239.500" stroke-width="1.4"/>
<path d="M452.3 755.9 A16 34 9 0 0 441.7 823.1" stroke-width="1.9"/>
<path d="M452.3 755.9 L458.3 754.9" stroke-width="1.9"/>
<path d="M441.7 823.1 L447.7 822.1" stroke-width="1.9"/>
<ellipse cx="453" cy="788.5" rx="16" ry="34" transform="rotate(9 453 788.5)" stroke-width="1.9"/>
<ellipse cx="451.3" cy="789" rx="2" ry="4.2" transform="rotate(10 451.3 789)" stroke-width="1.6"/>
<path d="M452 789.5 L469 794.3" stroke-width="1.6"/>
<path d="M419.5 774.6 A2.8 5 12 0 0 417.5 784.4" stroke-width="1.8"/>
<path d="M419.5 774.6 L428.5 777" stroke-width="1.8"/>
<path d="M417.5 784.4 L426.5 786.8" stroke-width="1.8"/>
<ellipse cx="427.5" cy="781.9" rx="2.8" ry="5" transform="rotate(12 427.5 781.9)" stroke-width="1.9"/>
<path d="M453.5 819.5 A2.5 4.6 12 0 0 451.5 828.5" stroke-width="1.8"/>
<path d="M453.5 819.5 L460 821.3" stroke-width="1.8"/>
<path d="M451.5 828.5 L458 830.3" stroke-width="1.8"/>
<ellipse cx="459" cy="825.8" rx="2.5" ry="4.6" transform="rotate(12 459 825.8)" stroke-width="1.9"/>
<ellipse cx="491.5" cy="838" rx="14.5" ry="24" transform="rotate(10 491.5 838)" stroke-width="1.8" fill="#111"/>
<ellipse cx="497" cy="837.5" rx="9.8" ry="20.5" transform="rotate(10 497 837.5)" stroke-width="1.5" fill="#fff"/>
<path d="M483 825 l3 -4 M481.5 852 l3 3" stroke="#fff" stroke-width="1.2"/>
<ellipse cx="495.3" cy="840" rx="1.8" ry="3.6" transform="rotate(10 495.3 840)" stroke-width="1.5"/>
<path d="M496 840.5 L524.7 846.3" stroke-width="1.5"/>
<ellipse cx="494.5" cy="800.5" rx="1.9" ry="3.8" transform="rotate(12 494.5 800.5)" stroke-width="1.6"/>
<path d="M495.3 796.7 L501.3 798.3" stroke-width="1.6"/>
<path d="M493.7 804.3 L498.7 805.6" stroke-width="1.6"/>
<ellipse cx="501.5" cy="802.4" rx="2.6" ry="5.2" transform="rotate(12 501.5 802.4)" stroke-width="1.8"/>
<path d="M502.5 797.2 L525.5 803.4" stroke-width="1.8"/>
<path d="M500.5 807.6 L523.5 813.8" stroke-width="1.8"/>
<path d="M514.5 800.4 A2.6 5.2 12 0 1 512.5 810.8" stroke-width="2.8"/>
<path d="M518.5 801.5 A2.6 5.2 12 0 1 516.5 811.9" stroke-width="2.8"/>
<path d="M525.5 803.4 A2.6 5.2 12 0 1 523.5 813.8" stroke-width="1.8"/>
<path d="M526.8 805.2 L532.2 806.9" stroke-width="1.6"/>
<path d="M525.2 812.8 L530.3 814" stroke-width="1.6"/>
<path d="M531.7 806.8 A1.8 3.6 12 0 1 530.3 814" stroke-width="1.8"/>
<path d="M531 810 L555 817"/>
<path d="M558.2 811 A3.1 5.6 12 0 0 555.8 822" stroke-width="1.8"/>
<path d="M558.2 811 L566.7 813.3" stroke-width="1.8"/>
<path d="M555.8 822 L564.3 824.3" stroke-width="1.8"/>
<ellipse cx="565.5" cy="818.8" rx="3.1" ry="5.6" transform="rotate(12 565.5 818.8)" stroke-width="1.9"/>
<path d="M568 820 L577 823 L568 832 L593 839" stroke-width="1.5"/>
<ellipse cx="527.5" cy="847" rx="1.6" ry="3.2" transform="rotate(12 527.5 847)" stroke-width="1.6"/>
<path d="M528.1 843.8 L533.2 845.2" stroke-width="1.6"/>
<path d="M526.9 850.2 L531.1 851.3" stroke-width="1.6"/>
<ellipse cx="533.4" cy="848.6" rx="2.2" ry="4.4" transform="rotate(12 533.4 848.6)" stroke-width="1.8"/>
<path d="M534.3 844.2 L553.6 849.4" stroke-width="1.8"/>
<path d="M532.5 853 L551.8 858.2" stroke-width="1.8"/>
<path d="M544.3 846.9 A2.2 4.4 12 0 1 542.6 855.7" stroke-width="2.8"/>
<path d="M547.7 847.8 A2.2 4.4 12 0 1 545.9 856.6" stroke-width="2.8"/>
<path d="M553.6 849.4 A2.2 4.4 12 0 1 551.8 858.2" stroke-width="1.8"/>
<path d="M554.6 851 L559.2 852.4" stroke-width="1.6"/>
<path d="M553.3 857.3 L557.6 858.3" stroke-width="1.6"/>
<path d="M558.8 852.3 A1.5 3 12 0 1 557.6 858.3" stroke-width="1.8"/>
<path d="M557 855.5 L583 861.5"/>
<path d="M585.5 856 A2.5 4.6 12 0 0 583.5 865" stroke-width="1.8"/>
<path d="M585.5 856 L592 857.8" stroke-width="1.8"/>
<path d="M583.5 865 L590 866.8" stroke-width="1.8"/>
<ellipse cx="591" cy="862.3" rx="2.5" ry="4.6" transform="rotate(12 591 862.3)" stroke-width="1.9"/>
<path d="M646.8 798.6 L650.7 793.9 L664.5 798.2 L664.1 806" stroke-width="2"/>
<path d="M646.8 798.6 L660.2 803 L664.1 806" stroke-width="1.6"/>
<path d="M660.2 803 L661 797.5" stroke-width="1.4"/>
<path d="M646.8 798.6 L608.6 845.9" stroke-width="2"/>
<path d="M658.5 806 L623.4 847.2" stroke-width="1.8"/>
<path d="M608.6 845.9 L623.8 850.2 L622.9 858" stroke-width="1.9"/>
<path d="M608.6 845.9 L604.3 853.7 L606.5 856.3 L618.6 858" stroke-width="1.8"/>
<path d="M606.5 856.3 Q603.5 866 605.6 873.6 L610.8 888.3 L608.6 895.3 L621.2 899.6 L627.3 892.7" stroke-width="2"/>
<path d="M627.3 892.7 Q637 887 642 884 Q653 876 659.3 866.7 Q665 858 666.3 849.3 L668 833.7" stroke-width="2"/>
<path d="M664.1 806 L666.3 828.5 L669.7 833.7 L668 847.6" stroke-width="1.9"/>
<path d="M666.3 832 L667 846" stroke-width="2.8"/>
<path d="M618.6 858 Q614.5 867 616 875.3 L624.7 887.5" stroke-width="2.5"/>
<path d="M610.8 888.3 L624.7 887.5" stroke-width="1.4"/>
<path d="M621.2 899.6 L624.7 887.5" stroke-width="1.4"/>
<path d="M658.8 808 L650 831" stroke-width="3.5"/>
<path d="M662.8 808.6 L666.3 828.5" stroke-width="1.4"/>
<path d="M650 831 Q640 832 637.5 845" stroke-width="1.8"/>
<path d="M633.3 873.6 L627.3 891.8" stroke-width="3.5"/>
<path d="M630 892 Q645 880 653 870 Q661 860 663 846" stroke-width="1.4"/>
<path d="M623.8 850.2 L636 851.5" stroke-width="3"/>
<ellipse cx="648.3" cy="848" rx="10" ry="18" transform="rotate(14 648.3 848)" stroke-width="2.1"/>
<ellipse cx="649.8" cy="848.5" rx="7" ry="14.5" transform="rotate(14 649.8 848.5)" stroke-width="1.9"/>
<path d="M645 836 Q640 850 647 862" stroke-width="3.8"/>
<ellipse cx="630" cy="865.5" rx="5" ry="10" transform="rotate(10 630 865.5)" stroke-width="1.5"/>
<ellipse cx="632" cy="865.5" rx="4.6" ry="8.6" transform="rotate(10 632 865.5)" stroke-width="1.5"/>
<ellipse cx="634" cy="865.5" rx="4.2" ry="7.4" transform="rotate(10 634 865.5)" stroke-width="1.5"/>
<ellipse cx="636" cy="865.8" rx="3.4" ry="6" transform="rotate(10 636 865.8)" stroke-width="1.9" fill="#fff"/>
<path d="M640 866 L650 866.7" stroke-width="1.5"/>
<ellipse cx="601.3" cy="888.8" rx="3.8" ry="2.4" transform="rotate(10 601.3 888.8)" stroke-width="1.6"/>
<path d="M632.2 791.5 L637 792.5 L636.6 796.2 L631.8 795.2Z" stroke-width="1.5"/>
<path d="M594.3 863.2 L613.4 866.7" stroke-width="1.5"/>
<path d="M678.1 846.1 A5 13 10 0 0 673.5 871.7" stroke-width="1.9"/>
<path d="M678.1 846.1 L687.6 845.2" stroke-width="1.9"/>
<path d="M673.5 871.7 L683 870.8" stroke-width="1.9"/>
<ellipse cx="685.3" cy="858" rx="5" ry="13" transform="rotate(10 685.3 858)" stroke-width="1.9"/>
<ellipse cx="685.6" cy="858" rx="3.4" ry="9" transform="rotate(10 685.6 858)" stroke-width="3.2"/>
<path d="M689.5 861 L764 882" stroke-width="1.5"/>
<path d="M695 834.7 L757 852.8" stroke-width="5.4"/>
<path d="M695 834.7 L757 852.8" stroke-width="7.2" stroke-dasharray="1.5 1.3" stroke-linecap="butt"/>
<path d="M758 853 L766 855.5"/>
<path d="M672 883.7 L734 899.8" stroke-width="5.4"/>
<path d="M672 883.7 L734 899.8" stroke-width="7.2" stroke-dasharray="1.5 1.3" stroke-linecap="butt"/>
<path d="M735 900 L744 903"/>
<ellipse cx="767" cy="855" rx="2.2" ry="4.6" transform="rotate(10 767 855)" stroke-width="1.8"/>
<ellipse cx="746" cy="903" rx="2.2" ry="4.6" transform="rotate(10 746 903)" stroke-width="1.8"/>
<ellipse cx="789" cy="888" rx="24" ry="46.5" transform="rotate(12 789 888)" stroke-width="1.9"/>
<ellipse cx="787" cy="889.5" rx="15" ry="35" transform="rotate(11 787 889.5)" stroke-width="1.9"/>
<path d="M801.1 844.5 A24 46 12 0 1 781.9 934.5" stroke-width="1.4"/>
<path d="M796.5 856.6 A15.5 34 11 0 1 783.5 923.4" stroke-width="1.4"/>
<path d="M805.6 891.5 L811.5 892.8" stroke-width="1.2"/>
<path d="M799.5 909.4 L803.8 914.4" stroke-width="1.2"/>
<path d="M790.6 921.5 L792.1 928.9" stroke-width="1.2"/>
<path d="M781.2 924.7 L779.5 932.5" stroke-width="1.2"/>
<path d="M773.9 918 L769.6 924.2" stroke-width="1.2"/>
<path d="M770.7 903.3 L764.8 906.1" stroke-width="1.2"/>
<path d="M772.4 884.5 L766.5 883.2" stroke-width="1.2"/>
<path d="M778.5 866.6 L774.2 861.6" stroke-width="1.2"/>
<path d="M787.4 854.5 L785.9 847.1" stroke-width="1.2"/>
<path d="M796.8 851.3 L798.5 843.5" stroke-width="1.2"/>
<path d="M804.1 858 L808.4 851.8" stroke-width="1.2"/>
<path d="M807.3 872.7 L813.2 869.9" stroke-width="1.2"/>
<path d="M806 862 L820 866 M805 873 L818 877" stroke-width="1.6"/>
<ellipse cx="821" cy="871" rx="3.6" ry="5.8" transform="rotate(10 821 871)" stroke-width="1.8"/>
<ellipse cx="821.5" cy="871" rx="1.6" ry="2.8" transform="rotate(10 821.5 871)" stroke-width="1.2"/>
<path d="M806 862 L805 873" stroke-width="1.5"/>
<path d="M772 906 L783 909.500 M771 917 L782 920" stroke-width="1.6"/>
<ellipse cx="784" cy="914.5" rx="2.8" ry="5.2" transform="rotate(10 784 914.5)" stroke-width="1.8"/>
<ellipse cx="784" cy="914.5" rx="1.2" ry="2.4" transform="rotate(10 784 914.5)" stroke-width="1.2"/>
<path d="M758 894 Q762 905 760.500 918 L764 936 Q768 928 767 921" stroke-width="1.8"/>
<path d="M761 897 L764 893 L766 905" stroke-width="1.5"/>
<path d="M806 843 L808 835 L810 843" stroke-width="1.6"/>
<path d="M815 840 L897 858 L896 867 L893 870 L815 850Z" stroke-width="1.8"/>
<path d="M816 845 L894 862.5" stroke-width="1.5"/>
<path d="M894 862.5 L893 870" stroke-width="1.2"/>
<path d="M894 862.5 L897 858" stroke-width="1.2"/>
<path d="M901.6 869.1 L876 897.9 Q865 926 876 954.9 L929.3 970.4" stroke-width="2"/>
<path d="M901.6 869.1 L949.6 881.9" stroke-width="2"/>
<path d="M949.6 881.9 Q956 885 958.1 890.9 Q961.5 899 960.8 908 Q960.5 919 958.1 929.3 Q955.5 938 950.7 945.3 Q944 952 936.8 956 L929.3 970.4 Q923 969 919.7 964.5 Q916 957 916.5 948.5 Q916.5 938 918.1 929.3 Q920.5 918 925.1 909.6 Q932 897 941.1 888.8 Q945 884 949.6 881.9" stroke-width="2"/>
<path d="M876 897.9 L925.1 909.6" stroke-width="1.8"/>
<path d="M945.3 890.9 Q938 898 933.6 908 Q930 913 928.3 917.6 Q921 932 920.8 945.3 Q923 951 928.3 950.7 Q933 950.5 936.8 948.5 Q942 945.5 945.3 941.1 Q950 934 952.8 924 Q955.5 916 956 908 Q955.5 900 952.8 895.2 Q950 890.5 947.5 889.9 Z" stroke-width="1.9"/>
<path d="M938 901 L952 904.5" stroke-width="2.8"/>
<path d="M940 898 L953 901.5" stroke-width="1.4"/>
<path d="M945.5 891 Q942 896 945 899.5 M949 890.5 L953.5 899" stroke-width="1.5"/>
<path d="M926 917 L926.5 925 L922.5 924.5" stroke-width="1.6"/>
<path d="M928.5 917.5 L948 923 L948.5 933" stroke-width="1.6"/>
<path d="M942.5 931.5 L950 933" stroke-width="1.5"/>
<ellipse cx="949" cy="935" rx="1.4" ry="2" stroke-width="1.5"/>
<path d="M920 947 Q927 948.5 931 951.5 M921 951.5 Q924 961 929 961.5 L934 953" stroke-width="1.8"/>
<path d="M922 948.5 L930 950" stroke-width="2.5"/>
<ellipse cx="938.5" cy="897" rx="0.9" ry="1.3" stroke-width="1.2"/>
<ellipse cx="930.5" cy="908" rx="0.9" ry="1.3" stroke-width="1.2"/>
<ellipse cx="923.5" cy="917" rx="0.9" ry="1.3" stroke-width="1.2"/>
<ellipse cx="947.5" cy="939.5" rx="0.9" ry="1.3" stroke-width="1.2"/>
<ellipse cx="919" cy="946" rx="0.9" ry="1.3" stroke-width="1.2"/>
<ellipse cx="936" cy="957" rx="0.9" ry="1.3" stroke-width="1.2"/>
<path d="M993.3 902.4 A20.5 42 10 0 0 978.7 985.2" stroke-width="1.9"/>
<path d="M993.3 902.4 L1003.3 902.1" stroke-width="1.9"/>
<path d="M978.7 985.2 L988.7 984.9" stroke-width="1.9"/>
<ellipse cx="996" cy="943.5" rx="20.5" ry="42" transform="rotate(10 996 943.5)" stroke-width="1.9"/>
<path d="M960 933.500 L967 935.500 M960 939.500 L967 941.500" stroke-width="1.5"/>
<ellipse cx="960.5" cy="936.5" rx="1.6" ry="3.2" transform="rotate(10 960.5 936.5)" stroke-width="1.5"/>
<path d="M953 932 L959.5 934.5" stroke-width="1.4"/>
<ellipse cx="995" cy="944.5" rx="2.6" ry="5.5" transform="rotate(10 995 944.5)" stroke-width="1.6"/>
<path d="M995 939 L1002 941" stroke-width="1.5"/>
<path d="M996 950 L1002 951.5" stroke-width="1.5"/>
<path d="M1017 926 L1066 939 Q1080 945.500 1090 954" stroke-width="1.8"/>
<path d="M1002 974 L1058 990 L1066 991 Q1078 991 1088 988" stroke-width="1.8"/>
<path d="M1017 926 Q1003 935 1001 952 Q1000 966 1002 974" stroke-width="1.8"/>
<path d="M1066 939 Q1052 948 1050 966 Q1050 982 1058 990" stroke-width="1.6"/>
<path d="M1095 954 L1111 959 M1088 989 L1104 994" stroke-width="1.8"/>
<path d="M1094.1 953.8 A6.5 18 10 0 0 1087.9 989.2" stroke-width="1.8"/>
<path d="M1090.6 952.8 A6.5 18 10 0 0 1084.4 988.2" stroke-width="1.6"/>
<ellipse cx="1108.5" cy="976.5" rx="6.5" ry="18" transform="rotate(10 1108.5 976.5)" stroke-width="1.8"/>
<path d="M1109 970 L1116 972.500 M1107 982 L1115 984.500" stroke-width="1.6"/>
<ellipse cx="1116" cy="978.5" rx="2.8" ry="6.2" transform="rotate(10 1116 978.5)" stroke-width="1.6"/>
<path d="M1117 973 L1134 978 M1116 984.500 L1133 989.500" stroke-width="1.6"/>
<ellipse cx="1133.5" cy="984" rx="2.2" ry="5.5" transform="rotate(10 1133.5 984)" stroke-width="1.5"/>
<path d="M1134 980.500 L1143 983 L1142.500 988.500 L1133.500 987" stroke-width="1.5"/>
<path d="M1144 986.5 L1149 988" stroke-width="1.4"/>
<path d="M1159.8 974.2 A8 16 10 0 0 1154.2 1005.8" stroke-width="1.8"/>
<path d="M1159.8 974.2 L1167.8 975.8" stroke-width="1.8"/>
<path d="M1154.2 1005.8 L1162.2 1007.4" stroke-width="1.8"/>
<ellipse cx="1165" cy="991.6" rx="8" ry="16" transform="rotate(10 1165 991.6)" stroke-width="1.8"/>
<ellipse cx="1165.3" cy="991.6" rx="5.3" ry="11.2" transform="rotate(10 1165.3 991.6)" stroke-width="2.8"/>
<ellipse cx="1165.5" cy="991.6" rx="2.4" ry="5.8" transform="rotate(10 1165.5 991.6)" stroke-width="1.4"/>
<path d="M1169 991 L1174 996" stroke-width="1.4"/>
<path d="M1224 946.5 L1366.5 988.5" stroke-width="2"/>
<path d="M1217.5 953 L1350 993" stroke-width="1.9"/>
<path d="M1224 946.5 L1217.5 953" stroke-width="1.8"/>
<path d="M1217.500 953 L1210 956 Q1196 962 1184 984 L1172 1008" stroke-width="1.9"/>
<path d="M1180.5 998 L1312 1037" stroke-width="1.9"/>
<path d="M1182 1001 L1310.5 1040" stroke-width="1.2"/>
<path d="M1346 992 Q1326 1000 1318 1020 Q1315 1028 1314 1036" stroke-width="2"/>
<path d="M1349 995 Q1330 1003 1322 1022 Q1319.500 1029 1319 1036" stroke-width="1.4"/>
<path d="M1171 1009 L1318.5 1048.5" stroke-width="2"/>
<path d="M1171 1009 L1178 1069 L1320.5 1108" stroke-width="2"/>
<path d="M1174 1019 L1316 1058" stroke-width="1.5"/>
<path d="M1176 1026 L1234 1040 L1237.5 1074 L1179 1064" stroke-width="1.6"/>
<ellipse cx="1302.5" cy="1070.5" rx="12" ry="10.5" transform="rotate(30 1302.5 1070.5)" stroke-width="1.8"/>
<path d="M1297 1062 Q1304 1064 1312.500 1075" stroke-width="1.5"/>
<path d="M1366.5 988.5 L1371 1026 L1372 1034 L1366 1050 L1365 1070 L1359 1076 L1346 1085 L1345 1094 L1331 1109.5 L1320.5 1108" stroke-width="2"/>
<path d="M1362 990 L1359 1000 L1315 1036 L1321 1042 L1316 1050 L1320.5 1108" stroke-width="1.9"/>
<path d="M1359 1000 L1366 1022" stroke-width="1.5"/>
<path d="M1363 1000 L1369 1030" stroke-width="1.2"/>
<path d="M1322.5 1024 L1325.5 1014.5" stroke-width="2.4"/>
<path d="M1325.8 1020.7 L1328.8 1011.6" stroke-width="2.4"/>
<path d="M1329.1 1017.4 L1332.1 1008.6" stroke-width="2.4"/>
<path d="M1332.4 1014.1 L1335.4 1005.6" stroke-width="2.4"/>
<path d="M1335.7 1010.8 L1338.7 1002.7" stroke-width="2.4"/>
<path d="M1339 1007.5 L1342 999.8" stroke-width="2.4"/>
<path d="M1342.3 1004.2 L1345.3 996.8" stroke-width="2.4"/>
<path d="M1345.6 1000.9 L1348.6 993.9" stroke-width="2.4"/>
<path d="M1348.9 997.6 L1351.9 990.9" stroke-width="2.4"/>
<path d="M1321 1031 L1352 999" stroke-width="2.5"/>
<path d="M1324.5 1036.5 L1356 1003.5" stroke-width="1.6"/>
<path d="M1328 1037 q5 0 7 5" stroke-width="2.5"/>
<path d="M1331.4 1033.6 q5 0 7 5" stroke-width="2.5"/>
<path d="M1334.8 1030.2 q5 0 7 5" stroke-width="2.5"/>
<path d="M1338.2 1026.8 q5 0 7 5" stroke-width="2.5"/>
<path d="M1341.6 1023.4 q5 0 7 5" stroke-width="2.5"/>
<path d="M1345 1020 q5 0 7 5" stroke-width="2.5"/>
<path d="M1348.4 1016.6 q5 0 7 5" stroke-width="2.5"/>
<path d="M1351.8 1013.2 q5 0 7 5" stroke-width="2.5"/>
<path d="M1331 1045 q3 -1 5 3" stroke-width="2"/>
<path d="M1334.2 1042 q3 -1 5 3" stroke-width="2"/>
<path d="M1337.4 1039 q3 -1 5 3" stroke-width="2"/>
<path d="M1340.6 1036 q3 -1 5 3" stroke-width="2"/>
<path d="M1343.8 1033 q3 -1 5 3" stroke-width="2"/>
<ellipse cx="1349.5" cy="1048" rx="11" ry="20.5" transform="rotate(14 1349.5 1048)" stroke-width="1.8"/>
<ellipse cx="1354" cy="1046" rx="12.5" ry="21.5" transform="rotate(14 1354 1046)" stroke-width="2.2" fill="#fff"/>
<ellipse cx="1356.5" cy="1047.5" rx="6.2" ry="11.5" transform="rotate(14 1356.5 1047.5)" stroke-width="1.9"/>
<ellipse cx="1357" cy="1047.5" rx="3" ry="6" transform="rotate(14 1357 1047.5)" stroke-width="1.4"/>
<path d="M1357 1047.5 L1375 1054" stroke-width="1.5"/>
<path d="M1321 1046 L1337 1043 L1324 1063Z" stroke-width="2.1"/>
<path d="M1322 1067 L1336 1053 L1341 1069 L1326 1083Z" stroke-width="2.1"/>
<path d="M1324 1087 L1338 1075 L1337 1092 L1327 1100Z" stroke-width="2"/>
<path d="M1336 1053 L1340 1044" stroke-width="2"/>
<path d="M1341 1069 L1347 1075" stroke-width="2"/>
<path d="M1322 1067 L1341 1069" stroke-width="1.6"/>
<path d="M1326 1083 L1338 1075" stroke-width="1.6"/>
<path d="M1340 1069 L1337.5 1080" stroke-width="2.2"/>
<path d="M1342.8 1069.4 L1340.3 1078.7" stroke-width="2.2"/>
<path d="M1345.6 1069.8 L1343.1 1077.4" stroke-width="2.2"/>
<path d="M1348.4 1070.2 L1345.9 1076.1" stroke-width="2.2"/>
<path d="M1351.2 1070.6 L1348.7 1074.8" stroke-width="2.2"/>
<path d="M1354 1071 L1351.5 1073.5" stroke-width="2.2"/>
<path d="M1327 1100 L1344 1094" stroke-width="1.8"/>
<path d="M1322 1092 L1327 1100" stroke-width="1.8"/>
<path d="M1322.5 1060 L1327 1055" stroke-width="3"/>
<path d="M1323 1075 L1329 1070" stroke-width="3"/>
<path d="M1324 1093 L1329 1089" stroke-width="2.8"/>
<path d="M1330 1104 L1343 1097" stroke-width="1.6"/>
<path d="M1380 1042.500 L1396 1046 M1376 1064 L1392 1070" stroke-width="1.8"/>
<path d="M1381 1042.500 Q1374 1046 1374 1054 Q1374 1062 1377 1064.500 L1391 1069.500 Q1386 1062 1387.500 1054 Q1389 1047 1395 1046 Z" stroke-width="1.5" fill="#1a1a1a"/>
<ellipse cx="1394.5" cy="1058" rx="6.2" ry="12" transform="rotate(12 1394.5 1058)" stroke-width="1.9" fill="#fff"/>
<path d="M1393 1055 L1396.5 1055.5 L1396 1061.5 L1392.5 1061Z" stroke-width="1.2"/>
<path d="M1251.4 1118.5 L1261 1105 Q1268 1097 1277.5 1101 Q1286 1106 1283 1116 L1273 1133.5" stroke-width="2"/>
<path d="M1257 1111 Q1267 1108.5 1278.5 1124" stroke-width="1.6"/>
<ellipse cx="1262" cy="1126" rx="13" ry="8.6" transform="rotate(35 1262 1126)" stroke-width="2.5" fill="#444"/>
<ellipse cx="1261.5" cy="1127" rx="10" ry="6" transform="rotate(35 1261.5 1127)" stroke-width="1.2" fill="#222"/>
<path d="M1254 1123 L1268 1132 M1257 1120.5 L1271 1130 M1253 1127 L1264 1134" stroke="#ddd" stroke-width="0.8"/>
<path d="M1300 1072 L1280 1101" stroke-width="1.6"/>
<path d="M1256.8 1133 L1252 1139" stroke-width="1.5"/>
<path d="M1243 1138 L1248 1138.5 L1256.8 1142 L1251 1151.5 L1240 1147.5Z" stroke-width="1.6"/>
<path d="M1248 1138.5 L1244.5 1146" stroke-width="1.4"/>
<path d="M1240 1147.5 L1244.5 1146 L1253 1148" stroke-width="1.4"/>
<path d="M1244 1150 L1231.5 1164.5" stroke-width="5.5" stroke-dasharray="1.5 1.1" stroke-linecap="butt"/>
<path d="M1244 1150 L1231.5 1164.5" stroke-width="3"/>
<path d="M1239 1147 L1247 1150.5" stroke-width="2.5"/>
<ellipse cx="1230.5" cy="1166.8" rx="4" ry="2.8" transform="rotate(25 1230.5 1166.8)" stroke-width="1.6"/>
<path d="M1228.8 1170 L1226 1174.5" stroke-width="1.5"/>
<ellipse cx="1213.5" cy="1188.5" rx="14.5" ry="10" transform="rotate(28 1213.5 1188.5)" stroke-width="2.1"/>
<path d="M1206 1175.500 Q1213 1168.500 1222 1171.500 Q1230 1175 1230.500 1184 Q1230.500 1190 1226 1196" stroke-width="1.9"/>
<path d="M1210 1173.500 Q1220 1170 1227 1178 Q1230 1184 1227 1193" stroke-width="1.4"/>
<path d="M1214 1172 Q1222 1171.500 1227.500 1181" stroke-width="1.4"/>
<path d="M1206.5 1188 L1218.5 1191" stroke-width="3.2"/>
<path d="M77 280 L37 365"/>
<path d="M109 289 L70 377"/>
<path d="M140 299 L103 380"/>
<path d="M165 308 L128 380"/>
<path d="M210 320 L200.1 340.8"/>
<path d="M198.1 345.1 L197.9 345.6" stroke-width="1.6"/>
<path d="M195.9 349.9 L188.1 366.1"/>
<path d="M186.1 370.4 L185.9 370.9" stroke-width="1.6"/>
<path d="M183.9 375.2 L174 396"/>
<path d="M277 342 L260 370"/>
<path d="M333 360 L322 373"/>
<path d="M408 381 L378 418"/>
<path d="M240 501 L316 519 L329 511"/>
<path d="M238 537.5 L291 556"/>
<path d="M238 612.5 L307 635"/>
<path d="M436 225 L454 209"/>
<path d="M487 263 L507.5 244"/>
<path d="M567 167.5 L530 193"/>
<path d="M572.5 228 L541 216"/>
<path d="M721 193 L658 182.5"/>
<path d="M699 222.5 L667.5 217"/>
<path d="M670 280 L653.4 276.5"/>
<path d="M648.8 275.6 L648.2 275.4" stroke-width="1.6"/>
<path d="M643.6 274.5 L627 271"/>
<path d="M646 312 L626.9 307.6"/>
<path d="M622.3 306.6 L621.7 306.4" stroke-width="1.6"/>
<path d="M617.1 305.4 L598 301"/>
<path d="M620 346 L602.4 342.1"/>
<path d="M597.8 341.1 L597.2 340.9" stroke-width="1.6"/>
<path d="M592.6 339.9 L575 336"/>
<path d="M462.5 301 L500 308"/>
<path d="M590 384 L556 376"/>
<path d="M537 408 L506 440"/>
<path d="M531 458 L521 482"/>
<path d="M588 443 L568 464"/>
<path d="M616 453 L594 469"/>
<path d="M645 462 L620 486"/>
<path d="M437 563 L470 510"/>
<path d="M480 573 L487 555"/>
<path d="M730 488 L693 551"/>
<path d="M808 514 L795 576"/>
<path d="M857 527 L824 582"/>
<path d="M891 542 L857 584"/>
<path d="M933 552 L888 605"/>
<path d="M1391 149 L1419 149"/>
<path d="M1372.8 197.7 L1390.9 198.1"/>
<path d="M1395.6 198.2 L1396.2 198.3" stroke-width="1.6"/>
<path d="M1400.9 198.4 L1419 198.8"/>
<path d="M1392.8 241 L1419 241"/>
<path d="M1377.6 270.8 L1393.3 270.8"/>
<path d="M1398 270.8 L1398.6 270.8" stroke-width="1.6"/>
<path d="M1403.3 270.8 L1419 270.8"/>
<path d="M1358 303 L1383.5 303"/>
<path d="M1388.2 303 L1388.8 303" stroke-width="1.6"/>
<path d="M1393.5 303 L1419 303"/>
<path d="M1382 352 L1395.5 352"/>
<path d="M1400.2 352 L1400.8 352" stroke-width="1.6"/>
<path d="M1405.5 352 L1419 352"/>
<path d="M1284.8 240 L1284 263.6"/>
<path d="M1058.7 444.7 L1048 468.7"/>
<path d="M1141 452 L1134 466.5"/>
<path d="M1132 470.7 L1131.7 471.3" stroke-width="1.6"/>
<path d="M1129.7 475.5 L1122.7 490"/>
<path d="M1172 459 L1165.4 473.9"/>
<path d="M1163.5 478.2 L1163.2 478.8" stroke-width="1.6"/>
<path d="M1161.3 483.1 L1154.7 498"/>
<path d="M382 875 L431 820"/>
<path d="M440 893 L480 850"/>
<path d="M480 906 L525 849"/>
<path d="M517 917 L544 862"/>
<path d="M552 926 L585 867"/>
<path d="M538 735 L498 796"/>
<path d="M574 744 L526 796"/>
<path d="M612 753 L562 814"/>
<path d="M658 767 L637 791"/>
<path d="M680 773 L660 794"/>
<path d="M712 781 L682 854"/>
<path d="M747 789 L714 834"/>
<path d="M787 803 L768 850"/>
<path d="M822 809 L800 842"/>
<path d="M873 824 L857 847"/>
<path d="M959 846 L938 877"/>
<path d="M1146 899 L1136.1 913.8"/>
<path d="M1133.5 917.8 L1133.2 918.2" stroke-width="1.6"/>
<path d="M1130.6 922.2 L1123.4 932.8"/>
<path d="M1120.8 936.8 L1120.5 937.2" stroke-width="1.6"/>
<path d="M1117.9 941.2 L1108 956"/>
<path d="M1208 917 L1197.5 932.2"/>
<path d="M1194.8 936.1 L1194.5 936.6" stroke-width="1.6"/>
<path d="M1191.8 940.4 L1184.2 951.6"/>
<path d="M1181.5 955.4 L1181.2 955.9" stroke-width="1.6"/>
<path d="M1178.5 959.8 L1168 975"/>
<path d="M1261 932 L1246 953"/>
<path d="M1439 983 L1427 998.7"/>
<path d="M1424.2 1002.4 L1423.8 1002.9" stroke-width="1.6"/>
<path d="M1421 1006.6 L1412 1018.4"/>
<path d="M1409.2 1022.1 L1408.8 1022.6" stroke-width="1.6"/>
<path d="M1406 1026.3 L1394 1042"/>
<path d="M1314 1142 L1280 1129"/>
<path d="M1288 1163 L1254.5 1151.6"/>
<path d="M1260.8 1200.5 L1228.8 1190"/>
</g>
<g class="n" filter="url(#sb)">
<text x="67.5" y="272" textLength="23.5" lengthAdjust="spacingAndGlyphs" transform="rotate(4 79 261.5)">64</text>
<text x="99.5" y="282" textLength="22.5" lengthAdjust="spacingAndGlyphs" transform="rotate(4 110.5 272)">61</text>
<text x="131.5" y="293" textLength="21.5" lengthAdjust="spacingAndGlyphs" transform="rotate(4 142 283)">79</text>
<text x="159.5" y="303" textLength="22.5" lengthAdjust="spacingAndGlyphs" transform="rotate(4 170.5 293)">78</text>
<text x="201.5" y="312" textLength="11.5" lengthAdjust="spacingAndGlyphs" transform="rotate(4 207 302.5)">6</text>
<text x="265.5" y="333" textLength="31.5" lengthAdjust="spacingAndGlyphs">116</text>
<text x="325.5" y="351" textLength="29.5" lengthAdjust="spacingAndGlyphs">121</text>
<text x="406.5" y="377" textLength="9.5" lengthAdjust="spacingAndGlyphs">3</text>
<text x="202.5" y="506" textLength="32.5" lengthAdjust="spacingAndGlyphs">122</text>
<text x="202.5" y="547.5" textLength="32.5" lengthAdjust="spacingAndGlyphs">123</text>
<text x="202.5" y="625" textLength="32.5" lengthAdjust="spacingAndGlyphs">112</text>
<text x="402.5" y="247" textLength="32.5" lengthAdjust="spacingAndGlyphs">118</text>
<text x="461.5" y="284" textLength="31.5" lengthAdjust="spacingAndGlyphs">119</text>
<text x="556.5" y="165" textLength="32" lengthAdjust="spacingAndGlyphs">112</text>
<text x="558.5" y="251" textLength="30.5" lengthAdjust="spacingAndGlyphs">117</text>
<text x="728.5" y="208" textLength="32.5" lengthAdjust="spacingAndGlyphs">116</text>
<text x="707" y="242" textLength="32" lengthAdjust="spacingAndGlyphs">115</text>
<text x="667.5" y="288" textLength="31.5" lengthAdjust="spacingAndGlyphs">114</text>
<text x="647" y="323" textLength="32" lengthAdjust="spacingAndGlyphs">113</text>
<text x="621.5" y="357" textLength="32" lengthAdjust="spacingAndGlyphs">112</text>
<text x="428.5" y="312.5" textLength="32.5" lengthAdjust="spacingAndGlyphs">112</text>
<text x="591.5" y="399" textLength="32" lengthAdjust="spacingAndGlyphs">111</text>
<text x="536.5" y="416" textLength="32" lengthAdjust="spacingAndGlyphs">110</text>
<text x="518.5" y="455" textLength="31.5" lengthAdjust="spacingAndGlyphs">109</text>
<text x="572" y="442.5" textLength="32" lengthAdjust="spacingAndGlyphs">108</text>
<text x="614.5" y="451" textLength="10.5" lengthAdjust="spacingAndGlyphs">2</text>
<text x="635.5" y="457.5" textLength="32.5" lengthAdjust="spacingAndGlyphs">107</text>
<text x="402.5" y="584.5" textLength="32.5" lengthAdjust="spacingAndGlyphs">108</text>
<text x="455.5" y="600" textLength="32.5" lengthAdjust="spacingAndGlyphs">108</text>
<text x="717.5" y="483" textLength="32.5" lengthAdjust="spacingAndGlyphs">106</text>
<text x="794.5" y="505" textLength="33.5" lengthAdjust="spacingAndGlyphs">105</text>
<text x="841.5" y="520.5" textLength="32.5" lengthAdjust="spacingAndGlyphs">104</text>
<text x="887.5" y="532.5" textLength="32.5" lengthAdjust="spacingAndGlyphs">103</text>
<text x="931.5" y="550" textLength="21.5" lengthAdjust="spacingAndGlyphs">76</text>
<text x="1424.3" y="155.6" textLength="32.7" lengthAdjust="spacingAndGlyphs">125</text>
<text x="1422.5" y="209" textLength="32.5" lengthAdjust="spacingAndGlyphs">126</text>
<text x="1424.3" y="249" textLength="32.7" lengthAdjust="spacingAndGlyphs">127</text>
<text x="1424.3" y="281" textLength="32.7" lengthAdjust="spacingAndGlyphs">129</text>
<text x="1424.5" y="314" textLength="32.5" lengthAdjust="spacingAndGlyphs">130</text>
<text x="1424.5" y="364" textLength="32.5" lengthAdjust="spacingAndGlyphs">131</text>
<text x="1281.5" y="239" textLength="20.5" lengthAdjust="spacingAndGlyphs">12</text>
<text x="1016.5" y="494" textLength="33.5" lengthAdjust="spacingAndGlyphs">135</text>
<text x="1094.2" y="515" textLength="33.5" lengthAdjust="spacingAndGlyphs">134</text>
<text x="1136.5" y="523" textLength="32.5" lengthAdjust="spacingAndGlyphs">133</text>
<text x="347.5" y="900" textLength="32.5" lengthAdjust="spacingAndGlyphs" transform="rotate(4 363.5 890.5)">102</text>
<text x="416.5" y="918" textLength="22.5" lengthAdjust="spacingAndGlyphs" transform="rotate(4 427.5 908)">99</text>
<text x="459.5" y="930" textLength="21.5" lengthAdjust="spacingAndGlyphs" transform="rotate(4 470 921)">98</text>
<text x="498.5" y="943" textLength="20.5" lengthAdjust="spacingAndGlyphs" transform="rotate(4 508.5 933.5)">97</text>
<text x="534.5" y="951" textLength="20.5" lengthAdjust="spacingAndGlyphs" transform="rotate(4 544.5 941.5)">96</text>
<text x="533.5" y="732" textLength="31.5" lengthAdjust="spacingAndGlyphs" transform="rotate(4 549 722)">101</text>
<text x="569.5" y="743" textLength="21.5" lengthAdjust="spacingAndGlyphs" transform="rotate(4 580 733.5)">46</text>
<text x="598.5" y="750" textLength="32.5" lengthAdjust="spacingAndGlyphs" transform="rotate(4 614.5 740)">100</text>
<text x="646.5" y="761" textLength="21.5" lengthAdjust="spacingAndGlyphs" transform="rotate(4 657 751.5)">95</text>
<text x="673.5" y="767" textLength="21.5" lengthAdjust="spacingAndGlyphs" transform="rotate(4 684 757.5)">94</text>
<text x="704.5" y="777" textLength="21.5" lengthAdjust="spacingAndGlyphs" transform="rotate(4 715 767.5)">93</text>
<text x="739.5" y="785" textLength="21.5" lengthAdjust="spacingAndGlyphs" transform="rotate(4 750 775.5)">92</text>
<text x="778.5" y="796" textLength="20.5" lengthAdjust="spacingAndGlyphs" transform="rotate(4 788.5 786.5)">13</text>
<text x="811.5" y="803" textLength="20.5" lengthAdjust="spacingAndGlyphs" transform="rotate(4 821.5 794)">91</text>
<text x="864.5" y="818" textLength="22.5" lengthAdjust="spacingAndGlyphs" transform="rotate(2 875.5 808.5)">90</text>
<text x="949.5" y="841" textLength="21.5" lengthAdjust="spacingAndGlyphs" transform="rotate(2 960 831.5)">89</text>
<text x="1137.5" y="894" textLength="22.5" lengthAdjust="spacingAndGlyphs">88</text>
<text x="1200.5" y="912" textLength="21.5" lengthAdjust="spacingAndGlyphs">87</text>
<text x="1254.5" y="926" textLength="23.5" lengthAdjust="spacingAndGlyphs">86</text>
<text x="1433.5" y="977" textLength="22.5" lengthAdjust="spacingAndGlyphs">85</text>
<text x="1315.5" y="1157" textLength="22.5" lengthAdjust="spacingAndGlyphs">84</text>
<text x="1291.5" y="1182.8" textLength="21.5" lengthAdjust="spacingAndGlyphs">83</text>
<text x="1260.3" y="1217" textLength="22.3" lengthAdjust="spacingAndGlyphs">82</text>
</g>
<g>
<rect x="0" y="1370.500" width="1500" height="1.2" fill="#222"/>
<rect x="31" y="1406" width="215.500" height="59.500" fill="#818085"/>
<polygon points="66.400,1416.600 84.800,1435.800 66.400,1455 48,1435.800" fill="#fff"/>
<g fill="#818085"><rect x="50" y="1428.400" width="21" height="2.600"/><rect x="47" y="1434.800" width="22.500" height="2.200"/><rect x="50" y="1441" width="21" height="2.600"/></g>
<path d="M70.500 1429.700 Q74.300 1429.700 74.300 1432.800 Q74.300 1435.900 69.500 1435.900 Q74.500 1435.900 74.500 1439.200 Q74.500 1442.300 70.500 1442.300" fill="none" stroke="#818085" stroke-width="2.600"/>
<g fill="#fff"><rect x="46.400" y="1431" width="9" height="3.800" rx="1.900"/><rect x="46.400" y="1437" width="9" height="4" rx="2"/></g>
<g filter="url(#na)"><text class="lg" x="94" y="1448.300" textLength="136" lengthAdjust="spacingAndGlyphs">ЗУБР</text>
<text class="ft" x="289" y="1449" textLength="124" lengthAdjust="spacingAndGlyphs" stroke="#1a1a1a" stroke-width="0.2">РС-305.</text>
<text class="ft" x="424" y="1449" textLength="676" lengthAdjust="spacingAndGlyphs" fill="#222" stroke="#fff" stroke-width="0.7">Схема 1-3 (Схема-состав. Станок рейсмусовый)</text></g>
</g>
</svg>
</body></html>
